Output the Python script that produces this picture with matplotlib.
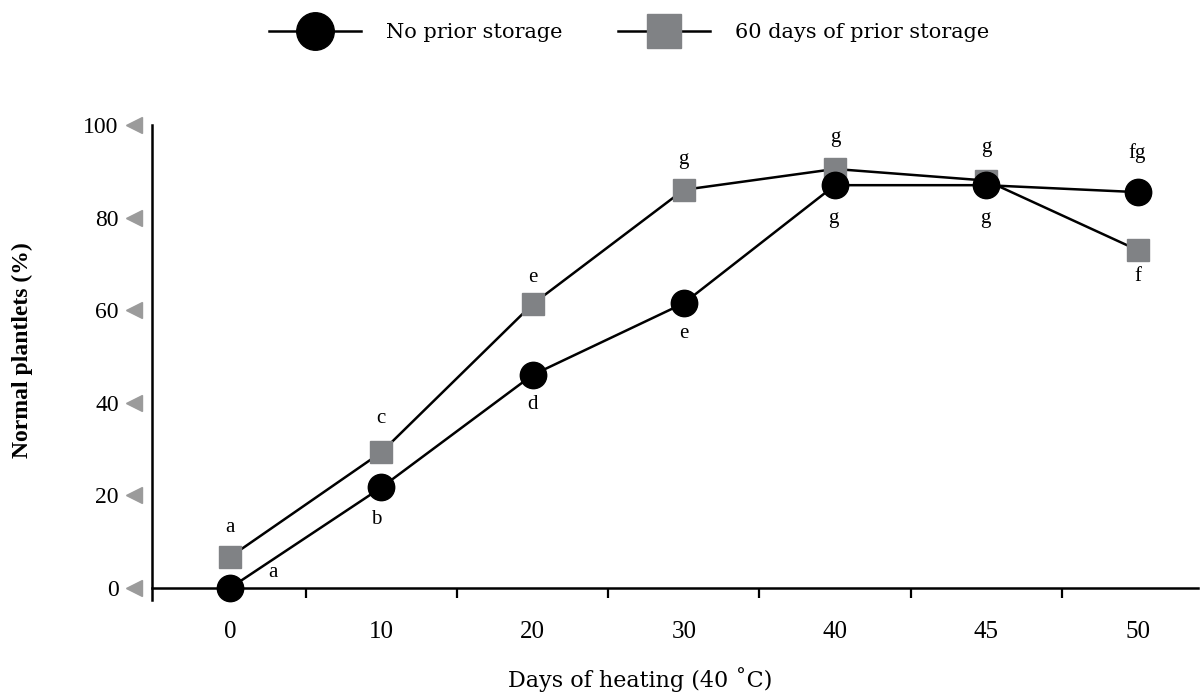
import matplotlib
matplotlib.use('Agg')
import matplotlib.pyplot as plt
from matplotlib.lines import Line2D

# data
days = ['0', '10', '20', '30', '40', '45', '50']
no_storage = [0, 21.7, 46, 61.5, 87, 87, 85.5]
stored_60 = [6.7, 29.3, 61.3, 86, 90.5, 88, 73]
no_storage_letters = ['a', 'b', 'd', 'e', 'g', 'g', 'fg']
stored_60_letters = ['a', 'c', 'e', 'g', 'g', 'g', 'f']
y_ticks = [0, 20, 40, 60, 80, 100]

# letter offsets (points) relative to each marker
no_storage_offsets = [(31, 11), (-4, -23), (0, -21), (0, -22), (-1, -24), (-1, -24), (0, 28)]
stored_60_offsets = [(0, 21), (0, 24), (0, 19), (0, 22), (0, 23), (0, 24), (0, -19)]

BLACK = '#000000'
GREY = '#808285'
TRI_GREY = '#9b9b9b'
SERIF = 'Liberation Serif'

fig = plt.figure(figsize=(12.03, 6.96), dpi=100)
ax = fig.add_axes([152 / 1203, 1 - 600 / 696, (1198 - 152) / 1203, (600 - 125) / 696])

x = list(range(len(days)))
ax.plot(x, no_storage, '-', color=BLACK, lw=1.8, marker='o', ms=19,
        mfc=BLACK, mec=BLACK, zorder=3, clip_on=False)
ax.plot(x, stored_60, '-', color=BLACK, lw=1.8, marker='s', ms=15.5,
        mfc=GREY, mec=GREY, zorder=2, clip_on=False)

for xi, yi, lab, off in zip(x, no_storage, no_storage_letters, no_storage_offsets):
    ax.annotate(lab, (xi, yi), xytext=off, textcoords='offset points',
                ha='center', va='center', fontsize=15, family=SERIF)
for xi, yi, lab, off in zip(x, stored_60, stored_60_letters, stored_60_offsets):
    ax.annotate(lab, (xi, yi), xytext=off, textcoords='offset points',
                ha='center', va='center', fontsize=15, family=SERIF)

ax.set_xlim(-0.516, 6.40)
ax.set_ylim(-2.6, 100)

for s in ['top', 'right']:
    ax.spines[s].set_visible(False)
ax.spines['bottom'].set_position(('data', 0))
ax.spines['bottom'].set_linewidth(1.8)
ax.spines['left'].set_linewidth(1.8)

# x: tick marks between categories, labels under categories
ax.set_xticks([i + 0.5 for i in range(len(days) - 1)])
ax.set_xticklabels([])
ax.tick_params(axis='x', which='major', direction='out', length=7, width=1.6)
ax.set_xticks(x, days, minor=True)
ax.tick_params(axis='x', which='minor', length=0, pad=24, labelsize=18)
for t in ax.get_xticklabels(minor=True):
    t.set_family(SERIF)

# y: grey triangles left of the spine instead of tick marks
ax.set_yticks(y_ticks)
ax.tick_params(axis='y', length=0, pad=24, labelsize=17)
for t in ax.get_yticklabels():
    t.set_family(SERIF)
ax.plot([-0.0168] * len(y_ticks), y_ticks, ls='none', marker='<', ms=11,
        color=TRI_GREY, mec=TRI_GREY, transform=ax.get_yaxis_transform(), clip_on=False)

fig.text(22 / 1203, 1 - 350 / 696, 'Normal plantlets (%)', rotation=90,
         ha='center', va='center', fontsize=17, fontweight='bold', family=SERIF)
fig.text(640 / 1203, 1 - 680 / 696, 'Days of heating (40 \u02daC)',
         ha='center', va='center', fontsize=16, family='DejaVu Serif')

handles = [
    Line2D([], [], color=BLACK, lw=1.8, marker='o', ms=27, mfc=BLACK, mec=BLACK),
    Line2D([], [], color=BLACK, lw=1.8, marker='s', ms=24, mfc=GREY, mec=GREY),
]
fig.legend(handles, ['No prior storage', '60 days of prior storage'],
           loc='center', bbox_to_anchor=(629 / 1203, 1 - 33 / 696), ncol=2,
           frameon=False, handlelength=4.4, columnspacing=2.7, handletextpad=1.2,
           prop={'family': 'DejaVu Serif', 'size': 15})

fig.savefig('out.png', dpi=100)
